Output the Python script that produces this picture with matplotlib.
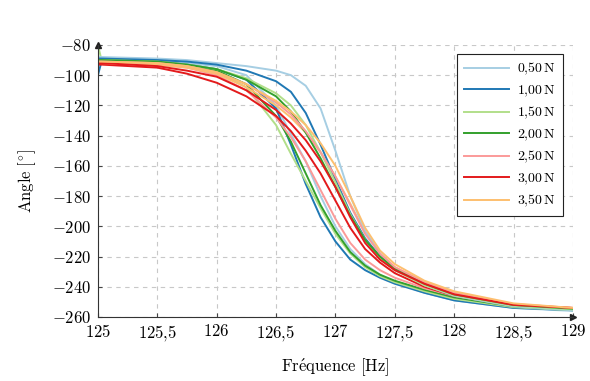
import matplotlib
matplotlib.use('Agg')
import matplotlib.pyplot as plt
from matplotlib.ticker import FixedLocator, FixedFormatter

plt.rcParams['font.family'] = 'serif'
plt.rcParams['font.serif'] = ['cmr10']
plt.rcParams['mathtext.fontset'] = 'cm'
plt.rcParams['axes.formatter.use_mathtext'] = True

# frequences communes a toutes les mesures
freq = [125, 125.03, 125.5, 125.75, 126, 126.25, 126.5, 126.625, 126.75, 126.875,
        127, 127.125, 127.25, 127.375, 127.5, 127.75, 128, 128.5, 129]

# deux balayages par force
ang_050_a = [-89, -89, -90, -92, -94, -100, -120, -139, -157, -180, -200, -215, -225, -232, -237, -244, -249, -254, -256]
ang_050_b = [-88, -88, -89, -90, -92, -94, -97, -100, -107, -122, -150, -180, -203, -218, -228, -239, -246, -253, -255.5]
ang_100_a = [-100, -91, -91, -93, -96, -103, -122, -146, -172, -194, -210, -222, -229, -234, -238, -244, -249, -254, -255.5]
ang_100_b = [-89, -89, -90, -91, -93, -97, -104, -111, -125, -146, -169, -191, -208, -220, -228, -238, -245, -252, -254.5]
ang_150_a = [-80, -90, -92, -94, -98, -108, -133, -152, -170, -188, -205, -218, -227, -233, -237, -243, -248, -253.5, -255.5]
ang_150_b = [-90, -90, -91, -93, -96, -102, -112, -120, -133, -151, -171, -192, -209, -221, -229, -239, -245.5, -252.5, -255]
ang_200_a = [-91, -91, -92, -94, -97, -106, -127, -144, -165, -186, -203, -217, -226, -232, -236, -242, -247, -253, -255]
ang_200_b = [-90, -90, -91, -93, -96, -103, -114, -124, -138, -155, -174, -193, -209, -220, -228, -238, -245, -252, -254.5]
ang_250_a = [-92, -92, -93, -95, -100, -110, -128, -141, -157, -176, -195, -211, -222, -229, -234, -241, -246, -252.5, -255]
ang_250_b = [-91, -91, -92, -94, -98, -106, -118, -126, -137, -151, -167, -186, -205, -218, -227, -237, -244, -251.5, -254]
ang_300_a = [-93, -93, -95, -99, -105, -114, -127, -137, -150, -165, -183, -201, -215, -224, -231, -240, -246, -252, -254.5]
ang_300_b = [-92, -92, -94, -97, -101, -110, -123, -132, -143, -157, -174, -194, -211, -222, -229, -238, -245, -252, -254]
ang_350_a = [-92, -92, -93, -95, -99, -108, -120, -128, -138, -151, -167, -185, -204, -218, -227, -237, -244, -251.5, -254]
ang_350_b = [-91, -91, -92, -94, -98, -106, -117, -124, -133, -145, -160, -180, -201, -216, -225, -236, -243, -251, -254]

labels = [r'$0{,}50\,\mathrm{N}$', r'$1{,}00\,\mathrm{N}$', r'$1{,}50\,\mathrm{N}$', r'$2{,}00\,\mathrm{N}$',
          r'$2{,}50\,\mathrm{N}$', r'$3{,}00\,\mathrm{N}$', r'$3{,}50\,\mathrm{N}$']
colors = ['#a6cee3', '#1f78b4', '#b2df8a', '#33a02c', '#fb9a99', '#e31a1c', '#fdbf6f']
sweeps_a = [ang_050_a, ang_100_a, ang_150_a, ang_200_a, ang_250_a, ang_300_a, ang_350_a]
sweeps_b = [ang_050_b, ang_100_b, ang_150_b, ang_200_b, ang_250_b, ang_300_b, ang_350_b]

xticks = [125, 125.5, 126, 126.5, 127, 127.5, 128, 128.5, 129]
xtick_labels = ['$125$', '$125{,}5$', '$126$', '$126{,}5$', '$127$', '$127{,}5$', '$128$', '$128{,}5$', '$129$']
yticks = [-260, -240, -220, -200, -180, -160, -140, -120, -100, -80]

fig = plt.figure(figsize=(5.9, 3.81), dpi=100)
ax = fig.add_axes([0.166, 0.168, 0.805, 0.714])

for lab, col, ya in zip(labels, colors, sweeps_a):
    ax.plot(freq, ya, color=col, lw=1.4, label=lab)
for col, yb in zip(colors, sweeps_b):
    ax.plot(freq, yb, color=col, lw=1.4)

ax.set_xlim(125, 129)
ax.set_ylim(-260, -80)
ax.xaxis.set_major_locator(FixedLocator(xticks))
ax.xaxis.set_major_formatter(FixedFormatter(xtick_labels))
ax.yaxis.set_major_locator(FixedLocator(yticks))
ax.yaxis.set_major_formatter(FixedFormatter(['$%d$' % v for v in yticks]))
ax.tick_params(direction='in', length=3, width=0.8, color='#444444', labelsize=12)
ax.tick_params(axis='x', pad=4)
ax.tick_params(axis='y', pad=5)
ax.grid(True, color='#c8c8c8', linestyle=(0, (4, 4)), linewidth=0.8)
ax.set_axisbelow(True)

ax.spines['top'].set_visible(False)
ax.spines['right'].set_visible(False)
ax.spines['left'].set_color('#333333')
ax.spines['bottom'].set_color('#333333')
ax.plot(1, 0, '>', color='#222222', ms=4, transform=ax.transAxes, clip_on=False)
ax.plot(0, 1, '^', color='#222222', ms=4, transform=ax.transAxes, clip_on=False)

ax.set_xlabel(r'$\mathrm{Fr\acute{e}quence\ [Hz]}$', fontsize=12, labelpad=10)
ax.set_ylabel(r'$\mathrm{Angle\ [^{\circ}]}$', fontsize=12, labelpad=10)

leg = ax.legend(loc='upper right', bbox_to_anchor=(0.993, 0.993), fontsize=10, handlelength=3.2,
                labelspacing=0.45, fancybox=False, framealpha=1, edgecolor='#222222', borderpad=0.5,
                handletextpad=0.6)
leg.get_frame().set_linewidth(0.8)

fig.savefig('out.png', dpi=100)
